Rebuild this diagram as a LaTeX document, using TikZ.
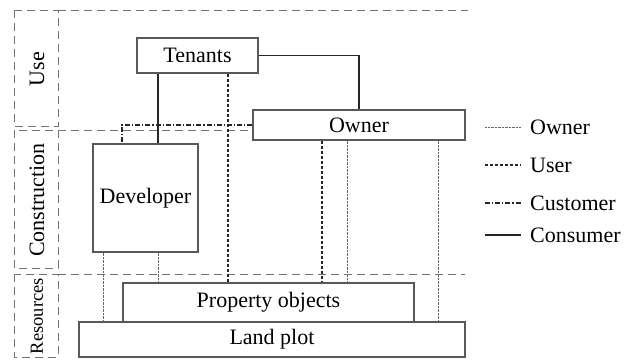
\documentclass[tikz,border=0pt]{standalone}
\usepackage{fontspec}
\setmainfont{Liberation Serif}
\usetikzlibrary{positioning}

\tikzset{
    box/.style={draw=black!65, line width=1.1pt, fill=white, inner sep=0pt,
        font=\fontsize{22}{26}\selectfont},
    band/.style={draw=black!55, line width=0.9pt, dash pattern=on 8pt off 5pt},
    ownerln/.style={draw=black!60, line width=0.9pt, dash pattern=on 0.7pt off 0.7pt},
    userln/.style={draw=black!85, line width=1.1pt, dash pattern=on 3pt off 2pt},
    customerln/.style={draw=black!85, line width=1.1pt, dash pattern=on 5pt off 2pt on 1.2pt off 2pt},
    consumerln/.style={draw=black!85, line width=1.3pt},
    legend/.style={anchor=west, inner sep=4pt, font=\fontsize{22}{26}\selectfont},
    bandlabel/.style={rotate=90, font=\fontsize{22}{26}\selectfont}
}

\begin{document}
\begin{tikzpicture}[x=1pt, y=-1pt]

    \useasboundingbox (0,0) rectangle (632,360);

    % bands
    \draw[band] (14,10) rectangle (58,126);
    \draw[band] (14,130) rectangle (58,268);
    \draw[band] (14,274) rectangle (58,357);
    \draw[band] (58,10) -- (468,10);
    \draw[band] (58,130) -- (253,130);
    \draw[band] (58,274) -- (465,274);

    \node[bandlabel] (use) at (37,69) {Use};
    \node[bandlabel] (constr) at (37,200) {Construction};
    \node[bandlabel, font=\fontsize{18.5}{21}\selectfont] (res) at (37,316) {Resources};

    % actors and objects
    \node[box, minimum width=121pt, minimum height=35pt] (tenants) at (197.5,55.5) {Tenants};
    \node[box, minimum width=212pt, minimum height=30pt] (owner) at (359,125) {Owner};
    \node[box, minimum width=105pt, minimum height=108pt] (developer) at (145.5,198) {Developer};
    \node[box, minimum width=291pt, minimum height=39pt] (objects) at (268.5,302.5) {Property objects};
    \node[box, minimum width=386pt, minimum height=35pt] (land) at (272,339.5) {Land plot};

    % columns of the links
    \coordinate (xa) at (158,0);
    \coordinate (xb) at (228,0);
    \coordinate (xc) at (122,0);
    \coordinate (xd) at (322,0);
    \coordinate (xe) at (347,0);
    \coordinate (xf) at (438,0);
    \coordinate (xg) at (103,0);

    % links
    \draw[consumerln] (tenants.east) -| (owner.north);
    \draw[consumerln] (tenants.south -| xa) -- (developer.north -| xa);
    \draw[userln] (tenants.south -| xb) -- (objects.north -| xb);
    \draw[customerln] (owner.west) -| (developer.north -| xc);
    \draw[userln] (owner.south -| xd) -- (objects.north -| xd);
    \draw[ownerln] (owner.south -| xe) -- (objects.north -| xe);
    \draw[ownerln] (owner.south -| xf) -- (land.north -| xf);
    \draw[ownerln] (developer.south -| xg) -- (land.north -| xg);
    \draw[ownerln] (developer.south -| xa) -- (objects.north -| xa);

    % legend
    \node[legend] (lgowner) at (526,127) {Owner};
    \node[legend] (lguser) at (526,165) {User};
    \node[legend] (lgcustomer) at (526,203) {Customer};
    \node[legend] (lgconsumer) at (526,235) {Consumer};
    \draw[ownerln] ([xshift=-41pt]lgowner.west) -- ([xshift=-5pt]lgowner.west);
    \draw[userln] ([xshift=-41pt]lguser.west) -- ([xshift=-5pt]lguser.west);
    \draw[customerln] ([xshift=-41pt]lgcustomer.west) -- ([xshift=-5pt]lgcustomer.west);
    \draw[consumerln] ([xshift=-41pt]lgconsumer.west) -- ([xshift=-5pt]lgconsumer.west);

\end{tikzpicture}
\end{document}
